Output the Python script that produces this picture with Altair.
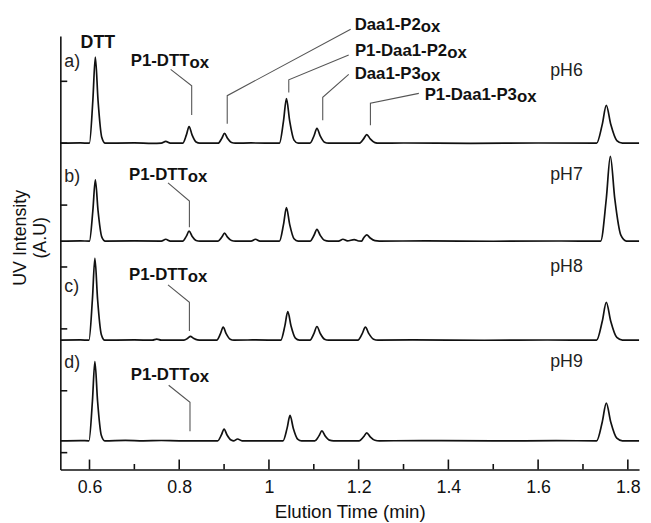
import altair as alt
import pandas as pd

FONT = "Liberation Sans"

# ---------------- chromatogram traces (time in min, intensity above own baseline) ----------------
a_time = [0.535, 0.58, 0.5998, 0.6075, 0.613, 0.619, 0.6273, 0.635, 0.70, 0.74, 0.760, 0.770, 0.780,
          0.8076, 0.816, 0.822, 0.8286, 0.8376, 0.846, 0.8866, 0.895, 0.901, 0.9076, 0.9166, 0.925, 0.96,
          1.0234, 1.0325, 1.039, 1.0462, 1.0559, 1.065, 1.0914, 1.1005, 1.107, 1.1142, 1.1239, 1.133,
          1.2012, 1.211, 1.218, 1.2257, 1.2362, 1.246, 1.30, 1.45, 1.60, 1.7304, 1.743, 1.752, 1.7619,
          1.7754, 1.788, 1.825]
a_int = [0.0, 0.004, 0.0, 0.695, 1.39, 0.695, 0.097, 0.0, 0.004, -0.003, 0.0, 0.03, 0.0,
         0.0, 0.135, 0.27, 0.135, 0.019, 0.0, 0.0, 0.08, 0.16, 0.08, 0.011, 0.0, 0.004,
         0.0, 0.36, 0.72, 0.36, 0.05, 0.0, 0.0, 0.12, 0.24, 0.12, 0.017, 0.0,
         0.0, 0.07, 0.14, 0.07, 0.01, 0.0, 0.003, -0.002, 0.003, 0.0, 0.305, 0.61, 0.305,
         0.043, 0.0, 0.0]

b_time = [0.535, 0.58, 0.5998, 0.6075, 0.613, 0.619, 0.6273, 0.635, 0.70, 0.760, 0.770, 0.780,
          0.8076, 0.816, 0.822, 0.8286, 0.8376, 0.846, 0.8866, 0.895, 0.901, 0.9076, 0.9166, 0.925,
          0.960, 0.970, 0.980, 1.0234, 1.0325, 1.039, 1.0462, 1.0559, 1.065, 1.0914, 1.1005, 1.107,
          1.1142, 1.1239, 1.133, 1.155, 1.165, 1.175, 1.19, 1.2, 1.2065, 1.211, 1.218, 1.2257, 1.2362,
          1.246, 1.35, 1.50, 1.65, 1.7394, 1.752, 1.761, 1.7709, 1.7844, 1.797, 1.825]
b_int = [0.0, 0.004, 0.0, 0.495, 0.99, 0.495, 0.069, 0.0, 0.003, 0.0, 0.03, 0.0,
         0.0, 0.08, 0.16, 0.08, 0.011, 0.0, 0.0, 0.065, 0.13, 0.065, 0.009, 0.0,
         0.0, 0.03, 0.0, 0.0, 0.27, 0.54, 0.27, 0.038, 0.0, 0.0, 0.095, 0.19,
         0.095, 0.013, 0.0, 0.0, 0.03, 0.003, 0.025, 0.002, 0.0, 0.05, 0.10, 0.05, 0.007,
         0.0, 0.003, -0.002, 0.002, 0.0, 0.685, 1.37, 0.685, 0.096, 0.0, 0.0]

c_time = [0.535, 0.58, 0.5988, 0.6065, 0.612, 0.618, 0.6263, 0.634, 0.70, 0.74, 0.75, 0.76,
          0.8106, 0.819, 0.825, 0.8316, 0.8406, 0.849, 0.8836, 0.892, 0.898, 0.9046, 0.9136, 0.922,
          0.97, 1.0264, 1.0355, 1.042, 1.0492, 1.0589, 1.068, 1.0914, 1.1005, 1.107, 1.1142, 1.1239,
          1.133, 1.1982, 1.208, 1.215, 1.2227, 1.2332, 1.243, 1.32, 1.48, 1.62, 1.7304, 1.743, 1.752,
          1.7619, 1.7754, 1.788, 1.825]
c_int = [0.0, 0.003, 0.0, 0.66, 1.32, 0.66, 0.092, 0.0, 0.003, 0.0, 0.015, 0.0,
         0.0, 0.03, 0.06, 0.03, 0.004, 0.0, 0.0, 0.105, 0.21, 0.105, 0.015, 0.0,
         0.003, 0.0, 0.23, 0.46, 0.23, 0.032, 0.0, 0.0, 0.11, 0.22, 0.11, 0.015,
         0.0, 0.0, 0.105, 0.21, 0.105, 0.015, 0.0, 0.003, -0.002, 0.002, 0.0, 0.305, 0.61,
         0.305, 0.043, 0.0, 0.0]

d_time = [0.535, 0.58, 0.5988, 0.6065, 0.612, 0.618, 0.6263, 0.634, 0.68, 0.72, 0.76, 0.80,
          0.8856, 0.894, 0.900, 0.9066, 0.9156, 0.922, 0.930, 0.940, 1.0314, 1.0405, 1.047, 1.0542,
          1.0639, 1.073, 1.1024, 1.1115, 1.118, 1.1252, 1.1349, 1.144, 1.2012, 1.211, 1.218, 1.2257,
          1.2362, 1.246, 1.34, 1.50, 1.64, 1.7304, 1.743, 1.752, 1.7619, 1.7754, 1.788, 1.825]
d_int = [0.0, 0.004, 0.0, 0.64, 1.28, 0.64, 0.09, 0.0, 0.006, 0.0, 0.005, 0.0,
         0.0, 0.095, 0.19, 0.095, 0.013, 0.0, 0.03, 0.0, 0.0, 0.205, 0.41, 0.205,
         0.029, 0.0, 0.0, 0.08, 0.16, 0.08, 0.011, 0.0, 0.0, 0.065, 0.13, 0.065,
         0.009, 0.0, 0.003, -0.002, 0.002, 0.0, 0.305, 0.61, 0.305, 0.043, 0.0, 0.0]

trace_names = ["a", "b", "c", "d"]
trace_offsets = [5.0, 3.418, 1.818, 0.191]
trace_times = [a_time, b_time, c_time, d_time]
trace_ints = [a_int, b_int, c_int, d_int]

# ---------------- axis ticks ----------------
x_major = [0.6, 0.8, 1.0, 1.2, 1.4, 1.6, 1.8]
x_minor = [0.7, 0.9, 1.1, 1.3, 1.5, 1.7]
y_ticks = [0, 1, 2, 3, 4, 5, 6]

# ---------------- annotations ----------------
sub_main = ["P1-DTT", "P1-DTT", "P1-DTT", "P1-DTT", "Daa1-P2", "P1-Daa1-P2", "Daa1-P3", "P1-Daa1-P3"]
sub_x = [0.8227, 0.8190, 0.8190, 0.8227, 1.3385, 1.3973, 1.3385, 1.5527]
sub_y = [6.2467, 4.4126, 2.7906, 1.1798, 6.8305, 6.4158, 6.0442, 5.6900]

panel_text = ["a)", "b)", "c)", "d)"]
panel_x = [0.5438, 0.5438, 0.5438, 0.5438]
panel_y = [6.2356, 4.3696, 2.5992, 1.3711]

ph_text = ["pH6", "pH7", "pH8", "pH9"]
ph_x = [1.6269, 1.6269, 1.6269, 1.6269]
ph_y = [6.0873, 4.4126, 2.9230, 1.3823]

dtt_text = ["DTT"]
dtt_x = [0.6187]
dtt_y = [6.5386]

leader_id = [0, 0, 0, 1, 1, 1, 2, 2, 2, 3, 3, 3, 4, 4, 4, 5, 5, 5, 6, 6, 6, 7, 7, 7]
leader_x = [0.7809, 0.8278, 0.8278, 0.7750, 0.8227, 0.8227, 0.7750, 0.8227, 0.8227,
            0.7765, 0.8240, 0.8240, 1.1822, 0.9070, 0.9070, 1.1778, 1.0442, 1.0442,
            1.1778, 1.1199, 1.1199, 1.3341, 1.2262, 1.2262]
leader_y = [6.1925, 5.9278, 5.4541, 4.3584, 4.0665, 3.6407, 2.7109, 2.4286, 1.9660,
            1.0889, 0.8129, 0.3456, 6.8417, 5.7683, 5.3153, 6.4270, 6.0235, 5.8209,
            6.1128, 5.7412, 5.3696, 5.8050, 5.6455, 5.2898]

X_DOMAIN = [0.535, 1.825]
Y_DOMAIN = [-0.271, 6.734]

# ---------------- build tables ----------------
rows = []
for name, off, ts, vs in zip(trace_names, trace_offsets, trace_times, trace_ints):
    for t, v in zip(ts, vs):
        rows.append({"trace": name, "x": t, "y": v + off})
traces_df = pd.DataFrame(rows)

leader_df = pd.DataFrame({"id": leader_id, "x": leader_x, "y": leader_y,
                          "seq": list(range(len(leader_id)))})
sub_df = pd.DataFrame({"x": sub_x, "y": sub_y, "main": sub_main, "sub": ["ox"] * len(sub_main)})
panel_df = pd.DataFrame({"x": panel_x, "y": panel_y, "t": panel_text})
ph_df = pd.DataFrame({"x": ph_x, "y": ph_y, "t": ph_text})
dtt_df = pd.DataFrame({"x": dtt_x, "y": dtt_y, "t": dtt_text})
xmaj_df = pd.DataFrame({"x": x_major})
xmin_df = pd.DataFrame({"x": x_minor})
ytk_df = pd.DataFrame({"y": y_ticks})

xs = alt.Scale(domain=X_DOMAIN, nice=False, zero=False)
ys = alt.Scale(domain=Y_DOMAIN, nice=False, zero=False)

x_axis = alt.Axis(values=x_major, format="~g", ticks=False, grid=False, domainColor="#111",
                  domainWidth=1.6, labelFontSize=18, labelPadding=9, labelColor="#111",
                  labelFont=FONT, title="Elution Time (min)", titleFontSize=19, titleFont=FONT,
                  titleFontWeight="normal", titleColor="#111", titlePadding=7)
y_axis = alt.Axis(labels=False, ticks=False, grid=False, domainColor="#111", domainWidth=1.6,
                  title=["UV Intensity", "(A.U)"], titleFontSize=18, titleFont=FONT,
                  titleFontWeight="normal", titleColor="#111", titleLineHeight=20,
                  titleAngle=270, titleAlign="center", titleBaseline="middle",
                  titleX=-40, titleY=204)

traces = alt.Chart(traces_df).mark_line(color="#111", strokeWidth=1.7,
                                        interpolate="monotone").encode(
    x=alt.X("x:Q", scale=xs, axis=x_axis),
    y=alt.Y("y:Q", scale=ys, axis=y_axis),
    detail="trace:N",
)

leaders = alt.Chart(leader_df).mark_line(color="#555", strokeWidth=1.1).encode(
    x=alt.X("x:Q", scale=xs), y=alt.Y("y:Q", scale=ys), detail="id:N", order="seq:Q")

xmaj = alt.Chart(xmaj_df).mark_rule(color="#111", strokeWidth=1.6).encode(
    x=alt.X("x:Q", scale=xs), y=alt.value(439), y2=alt.value(429))
xmin = alt.Chart(xmin_df).mark_rule(color="#111", strokeWidth=1.6).encode(
    x=alt.X("x:Q", scale=xs), y=alt.value(439), y2=alt.value(433.5))
ytk = alt.Chart(ytk_df).mark_rule(color="#111", strokeWidth=1.6).encode(
    y=alt.Y("y:Q", scale=ys), x=alt.value(0), x2=alt.value(7))

main_txt = alt.Chart(sub_df).mark_text(align="right", baseline="alphabetic", font=FONT,
                                       fontSize=17, fontWeight="bold", color="#111").encode(
    x=alt.X("x:Q", scale=xs), y=alt.Y("y:Q", scale=ys), text="main:N")
sub_txt = alt.Chart(sub_df).mark_text(align="left", baseline="alphabetic", font=FONT,
                                      fontSize=17, fontWeight="bold", color="#111", dy=2).encode(
    x=alt.X("x:Q", scale=xs), y=alt.Y("y:Q", scale=ys), text="sub:N")
dtt_txt = alt.Chart(dtt_df).mark_text(align="center", baseline="alphabetic", font=FONT,
                                      fontSize=18, fontWeight="bold", color="#111").encode(
    x=alt.X("x:Q", scale=xs), y=alt.Y("y:Q", scale=ys), text="t:N")
panel_txt = alt.Chart(panel_df).mark_text(align="left", baseline="alphabetic", font=FONT,
                                          fontSize=18, color="#222").encode(
    x=alt.X("x:Q", scale=xs), y=alt.Y("y:Q", scale=ys), text="t:N")
ph_txt = alt.Chart(ph_df).mark_text(align="left", baseline="alphabetic", font=FONT,
                                    fontSize=18, color="#222").encode(
    x=alt.X("x:Q", scale=xs), y=alt.Y("y:Q", scale=ys), text="t:N")

chart = alt.layer(traces, leaders, xmaj, xmin, ytk, main_txt, sub_txt, dtt_txt, panel_txt,
                  ph_txt).properties(
    width=586, height=439,
    autosize=alt.AutoSizeParams(type="none"),
    padding={"left": 53, "top": 25, "right": 4, "bottom": 50},
    background="white",
).configure_view(stroke=None)

chart.save("out.html", embed_options={"renderer": "svg", "actions": False})
